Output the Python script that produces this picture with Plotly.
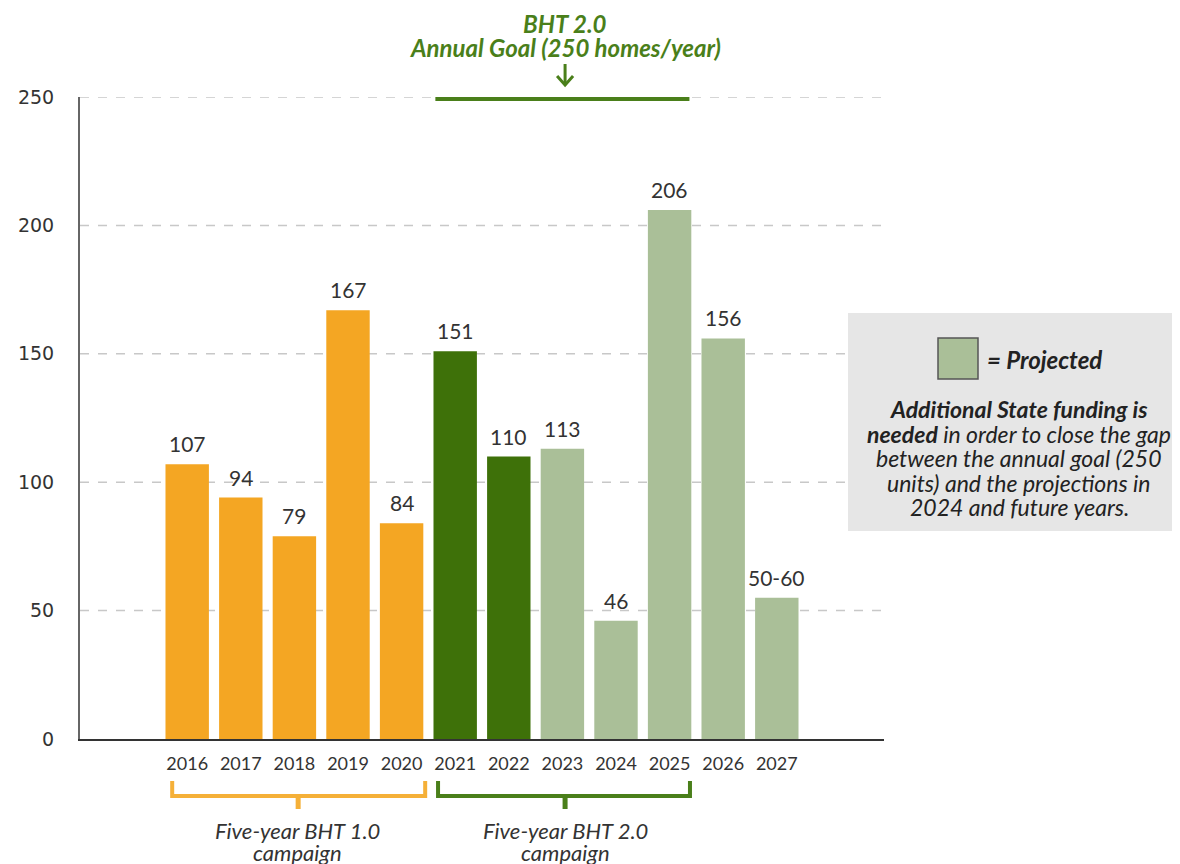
import plotly.graph_objects as go

years = ["2016", "2017", "2018", "2019", "2020", "2021", "2022", "2023", "2024", "2025", "2026", "2027"]
homes = [107, 94, 79, 167, 84, 151, 110, 113, 46, 206, 156, 55]
value_labels = ["107", "94", "79", "167", "84", "151", "110", "113", "46", "206", "156", "50-60"]
status = ["bht1", "bht1", "bht1", "bht1", "bht1", "bht2", "bht2", "proj", "proj", "proj", "proj", "proj"]
y_ticks = [0, 50, 100, 150, 200, 250]
annual_goal = 250

ORANGE = "#F4A623"
DARK_GREEN = "#3E7109"
LIGHT_GREEN = "#AABF98"
GOAL_GREEN = "#4A7F1A"
color_map = {"bht1": ORANGE, "bht2": DARK_GREEN, "proj": LIGHT_GREEN}
FONT = "Lato, 'Open Sans', sans-serif"

# page offset (body margin) and plot-area pixel frame in reference pixels
OFF = 8
W, H = 1180 - OFF, 864 - OFF
PL, PR, PT, PB = 80, 884, 97, 739
def px(xp):
    return (xp - PL) / (PR - PL)
def py(yp):
    return (PB - yp) / (PB - PT)
DXPX = 15.0 / (PR - PL)  # data-x units per pixel (range spans 15 units)

xs = list(range(len(years)))
fig = go.Figure()
fig.add_trace(go.Bar(
    x=xs, y=homes,
    marker=dict(color=[color_map[s] for s in status], line=dict(width=0)),
    width=0.81,
    hoverinfo="skip",
))

for x, v, t in zip(xs, homes, value_labels):
    fig.add_annotation(x=x, y=v, text=t, showarrow=False, yanchor="bottom", yshift=6,
                       font=dict(family=FONT, size=21, color="#333333"))

shapes = []
for t in y_ticks[1:]:
    shapes.append(dict(type="line", xref="paper", yref="y", x0=0, x1=1, y0=t, y1=t,
                       line=dict(color="#C8C8C8", width=1.5, dash="dash"), layer="below"))
shapes.append(dict(type="line", xref="x", yref="y", x0=4.63, x1=9.37, y0=annual_goal, y1=annual_goal,
                   line=dict(color=GOAL_GREEN, width=8)))

# down arrow (chevron) under the goal title
AX = 7.05
shapes.append(dict(type="line", xref="x", yref="paper", x0=AX, x1=AX, y0=py(64), y1=py(84),
                   line=dict(color=GOAL_GREEN, width=3)))
shapes.append(dict(type="path", xref="x", yref="paper",
                   path=f"M {AX - 8*DXPX},{py(76)} L {AX},{py(85)} L {AX + 8*DXPX},{py(76)}",
                   line=dict(color=GOAL_GREEN, width=3)))

def bracket(x0, x1, xc, color):
    yt, yh, yb = py(781), py(796), py(809)
    return [
        dict(type="path", xref="x", yref="paper",
             path=f"M {x0},{yt} L {x0},{yh} L {x1},{yh} L {x1},{yt}",
             line=dict(color=color, width=4)),
        dict(type="line", xref="x", yref="paper", x0=xc, x1=xc, y0=yh, y1=yb,
             line=dict(color=color, width=5)),
    ]
shapes += bracket(-0.28, 4.44, 2.07, "#F5B038")
shapes += bracket(4.68, 9.38, 7.05, "#4A7F1A")

shapes.append(dict(type="rect", xref="paper", yref="paper", x0=px(848), x1=px(1190), y0=py(531), y1=py(313),
                   fillcolor="#E6E6E6", line=dict(width=0), layer="below"))
shapes.append(dict(type="rect", xref="paper", yref="paper", x0=px(938), x1=px(978), y0=py(379), y1=py(338),
                   fillcolor=LIGHT_GREEN, line=dict(color="#555555", width=1.5)))
fig.update_layout(shapes=shapes)

anns = [
    dict(x=AX, xref="x", y=py(23), yref="paper", text="<b><i>BHT 2.0</i></b>",
         font=dict(family=FONT, size=24, color=GOAL_GREEN)),
    dict(x=AX, xref="x", y=py(47), yref="paper", text="<b><i>Annual Goal (250 homes/year)</i></b>",
         font=dict(family=FONT, size=24, color=GOAL_GREEN)),
    dict(x=px(985), y=py(359), xref="paper", yref="paper", xanchor="left",
         text="<b><i>= Projected</i></b>", font=dict(family=FONT, size=24, color="#222222")),
    dict(x=2.05, xref="x", y=py(830), yref="paper", text="<i>Five-year BHT 1.0</i>",
         font=dict(family=FONT, size=22, color="#333333")),
    dict(x=2.05, xref="x", y=py(852), yref="paper", text="<i>campaign</i>",
         font=dict(family=FONT, size=22, color="#333333")),
    dict(x=7.05, xref="x", y=py(830), yref="paper", text="<i>Five-year BHT 2.0</i>",
         font=dict(family=FONT, size=22, color="#333333")),
    dict(x=7.05, xref="x", y=py(852), yref="paper", text="<i>campaign</i>",
         font=dict(family=FONT, size=22, color="#333333")),
]
note_lines = [
    "<b><i>Additional State funding is</i></b>",
    "<b><i>needed</i></b><i> in order to close the gap</i>",
    "<i>between the annual goal (250</i>",
    "<i>units) and the projections in</i>",
    "<i>2024 and future years.</i>",
]
for i, line in enumerate(note_lines):
    anns.append(dict(x=px(1019), y=py(409 + 24.5 * i), xref="paper", yref="paper", text=line,
                     xanchor="center", font=dict(family=FONT, size=23, color="#222222")))
for a in anns:
    a.setdefault("showarrow", False)
    a.setdefault("yanchor", "middle")
    a.setdefault("xanchor", "center")
    fig.add_annotation(**a)

fig.update_layout(
    width=W, height=H,
    margin=dict(l=PL - OFF, r=W - (PR - OFF), t=PT - OFF, b=H - (PB - OFF), autoexpand=False),
    paper_bgcolor="white", plot_bgcolor="white",
    showlegend=False,
    bargap=0.19,
    font=dict(family=FONT, color="#333333"),
    xaxis=dict(range=[-2, 13], tickmode="array", tickvals=xs, ticktext=years,
               showgrid=False, zeroline=False, showline=True, linecolor="#333333", linewidth=2,
               ticks="", ticklabelstandoff=7, tickfont=dict(family=FONT, size=18, color="#333333")),
    yaxis=dict(range=[0, 250], tickmode="array", tickvals=y_ticks, showgrid=False, zeroline=False,
               showline=True, linecolor="#666666", linewidth=2, ticks="", ticklabelstandoff=20,
               tickfont=dict(family="'DejaVu Sans', Verdana, sans-serif", size=19, color="#333333")),
)

fig.write_html("out.html")
